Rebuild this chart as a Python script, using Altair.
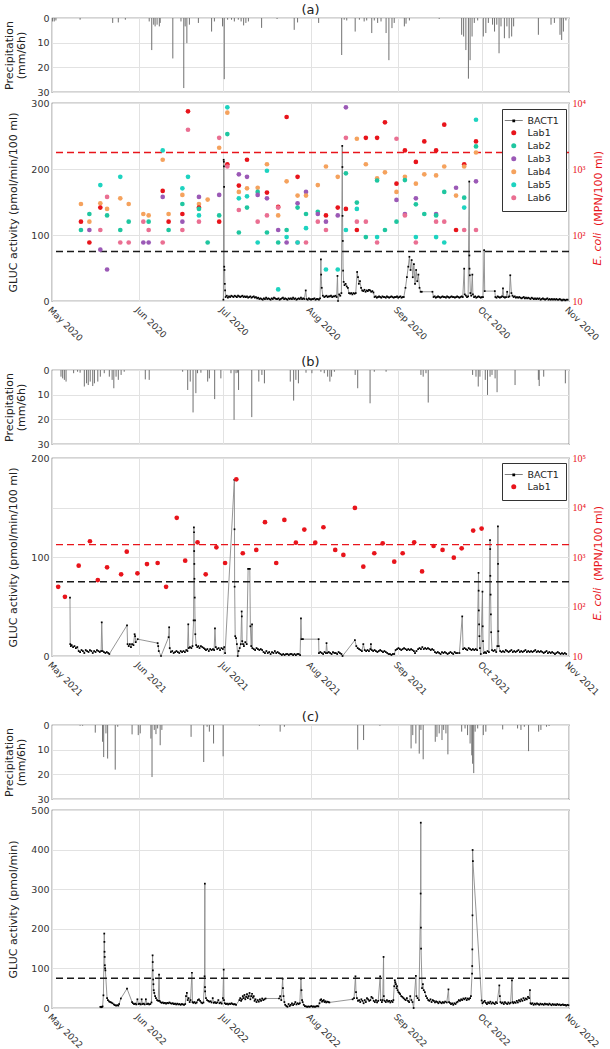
import altair as alt
import pandas as pd

FONT = "DejaVu Sans"
SERIF = "Liberation Serif"
RED = "#e8141b"
W, HP, HG = 517, 74, 198

SERIES_A = ["BACT1", "Lab1", "Lab2", "Lab3", "Lab4", "Lab5", "Lab6"]
COLORS_A = ["#000000", "#e8141b", "#1fc6a0", "#9b59b6", "#f5a25d", "#1dd3c0", "#ea6f92"]
SERIES_B = ["BACT1", "Lab1"]
COLORS_B = ["#000000", "#e8141b"]
BACT_SYMBOL = "M-3.6,-0.13H3.6V0.13H-3.6Z M-0.55,-0.55H0.55V0.55H-0.55Z"

# precipitation events: (day after May 1, mm per 6h)
PRECIP_A = [(0.2,1.4),(0.8,1.4),(1.4,1.0),(10.0,0.7),(21.6,2.0),(23.6,1.8),(26.1,0.7),(34.6,1.4),(35.5,13.0),
            (36.2,2.7),(36.7,3.4),(37.4,2.7),(38.2,3.4),(38.5,2.0),(43.0,16.4),(45.9,1.4),(46.9,28.4),(47.4,3.4),
            (48.0,10.2),(48.9,2.7),(52.1,2.0),(56.8,5.5),(57.8,1.4),(60.7,3.4),(61.3,24.8),(62.5,0.7),(63.9,0.7),
            (64.9,1.4),(66.3,0.7),(67.3,1.4),(68.2,3.0),(69.0,2.0),(69.9,1.4),(74.6,4.0),(80.1,0.4),(86.2,4.8),
            (87.4,1.8),(94.9,2.0),(103.1,15.0),(104.0,0.7),(104.9,1.0),(107.9,5.5),(109.4,0.7),(111.1,1.4),
            (112.0,1.0),(113.8,6.1),(114.7,1.0),(115.9,2.0),(117.1,1.4),(118.9,6.1),(119.9,17.1),(121.0,4.1),
            (121.8,2.0),(125.4,3.4),(126.0,2.3),(127.2,1.0),(137.8,0.4),(145.8,6.8),(146.5,7.5),(147.3,13.0),
            (148.2,24.6),(148.8,17.1),(149.5,7.5),(150.3,2.0),(151.5,1.0),(153.5,7.5),(154.4,6.1),(155.3,2.0),
            (156.8,2.7),(157.5,5.5),(158.3,2.7),(159.1,14.3),(159.8,3.4),(161.0,8.2),(161.9,3.4),(162.7,8.2),
            (163.6,7.5),(164.3,3.4),(173.1,6.8),(177.6,2.7),(178.8,2.0),(180.8,6.8),(181.4,8.9),(182.0,5.5),
            (182.9,1.0)]
PRECIP_B = [(3.2,2.7),(3.8,3.4),(4.4,4.0),(5.0,4.7),(7.7,1.3),(9.1,0.7),(10.0,1.1),(11.5,6.7),(12.3,5.4),
            (12.9,6.1),(13.6,4.7),(14.5,6.5),(15.1,5.4),(16.3,4.7),(17.2,2.7),(18.6,1.3),(20.4,2.7),(21.4,4.0),
            (22.0,7.4),(22.8,2.7),(23.6,4.0),(24.6,2.0),(25.7,0.7),(33.2,3.8),(34.6,4.0),(46.5,0.7),(48.3,8.1),
            (49.2,4.7),(50.2,17.2),(51.2,9.4),(51.8,1.3),(53.0,1.1),(55.4,4.7),(56.0,3.4),(57.9,11.8),(60.1,3.4),
            (63.7,1.3),(64.8,20.2),(65.5,1.3),(66.1,1.1),(66.4,8.1),(71.1,19.1),(73.6,4.7),(74.7,2.0),(75.6,5.4),
            (84.8,4.7),(86.0,12.4),(86.8,4.0),(87.7,5.4),(90.4,1.1),(92.5,1.3),(95.7,0.7),(96.9,1.3),(98.1,2.7),
            (98.9,4.7),(99.5,2.7),(100.5,0.7),(107.9,2.0),(108.8,7.4),(113.2,13.5),(114.7,0.7),(118.9,0.7),
            (131.3,2.0),(132.1,2.7),(133.1,1.3),(133.9,13.2),(149.7,2.0),(150.9,2.7),(151.7,6.7),(152.3,2.7),
            (154.2,4.0),(155.0,10.1),(155.9,2.7),(156.6,2.0),(157.7,3.4),(158.4,9.0),(164.8,6.1),(173.1,4.0),
            (173.4,6.5),(175.0,2.7),(182.7,5.4)]
PRECIP_C = [(10.0,0.3),(10.9,0.3),(15.4,3.1),(18.0,6.8),(18.4,13.0),(19.2,3.4),(19.8,13.6),(22.5,18.1),
            (23.4,0.7),(28.5,3.8),(30.7,4.1),(31.4,3.4),(35.2,5.5),(35.6,21.1),(36.4,2.0),(37.0,3.7),(37.6,1.4),
            (38.5,8.2),(39.1,2.0),(49.5,4.8),(54.0,15.0),(55.2,0.7),(56.0,2.7),(57.5,7.5),(60.9,12.7),(73.8,0.3),
            (81.2,2.7),(82.7,0.7),(108.8,10.0),(110.9,6.1),(116.7,0.3),(127.8,9.5),(128.4,4.1),(129.5,7.5),
            (130.7,11.6),(131.3,2.0),(132.1,13.9),(136.4,6.8),(137.0,4.8),(137.8,3.4),(138.8,6.1),(139.4,2.0),
            (140.2,3.4),(140.9,11.9),(145.8,2.7),(147.0,1.4),(147.9,4.1),(148.8,7.5),(149.4,12.3),(149.7,15.7),
            (150.1,19.5),(150.6,2.7),(151.5,1.4),(153.5,4.1),(154.4,2.7),(160.4,1.8),(165.7,1.4),(166.9,2.0),
            (168.1,0.7),(169.6,10.6),(173.2,2.7),(174.0,2.0),(176.0,0.7),(176.9,0.4)]

# BACT1 GLUC activity: (day after May 1, value)
BACT_A = [(61.0,2),(61.1,214),(61.15,211),(61.2,204),(61.25,173),(61.3,52),(61.4,47),(61.5,26),(61.6,16),(61.8,6),
(62.2,8),(62.6,5),(63.0,7),(63.4,6),(63.8,8),(64.2,7),(64.6,6),(65.0,8),(65.4,7),(65.8,6),(66.2,8),(66.6,7),(67.0,6),
(67.4,7),(67.8,8),(68.2,6),(68.6,7),(69.0,6),(69.4,7),(69.8,5),(70.2,6),(70.6,7),(71.0,5),(71.4,6),(71.8,7),(72.2,5),
(72.6,6),(73.0,4),(73.4,5),(73.8,3),(74.2,4),(74.6,3),(75.0,2),(75.4,4),(75.8,3),(76.2,5),(76.6,3),(77.0,4),(77.4,3),
(77.8,2),(78.2,4),(78.6,3),(79.0,5),(79.4,4),(79.8,3),(80.2,3),(80.6,4),(81.0,2),(81.4,3),(81.8,4),(82.2,5),(82.6,3),
(83.0,4),(83.4,3),(83.8,2),(84.2,4),(84.6,3),(85.0,4),(85.4,3),(85.8,5),(86.2,3),(86.6,4),(87.0,2),(87.4,3),(87.8,4),
(88.2,3),(88.6,5),(89.0,3),(89.4,4),(89.8,3),(90.3,16),(90.6,3),(91.0,2),(91.4,4),(91.8,3),(92.2,2),(92.6,3),(93.0,3),
(93.4,4),(93.8,2),(94.2,3),(94.6,3),(95.0,2),(95.4,4),(95.7,63),(95.8,40),(96.0,20),(96.4,8),(96.9,6),(97.3,7),(97.7,8),
(98.1,6),(98.5,7),(98.9,7),(99.3,8),(99.7,6),(100.1,7),(100.5,7),(100.9,8),(101.3,6),(101.6,38),(101.8,0),(102.2,10),
(102.6,8),(103.0,12),(103.3,235),(103.35,203),(103.4,129),(103.5,91),(103.6,46),(103.8,29),(104.1,24),(104.5,26),
(104.9,22),(105.3,20),(105.7,12),(106.1,11),(106.5,12),(106.9,10),(107.3,12),(107.7,11),(108.1,12),(108.6,44),
(108.9,36),(109.2,26),(109.6,30),(110.0,20),(110.4,16),(110.8,15),(111.2,17),(111.6,14),(112.0,16),(112.4,15),
(112.8,17),(113.2,16),(113.6,14),(114.0,15),(114.4,13),(114.8,6),(115.2,7),(115.6,5),(116.0,6),(116.4,7),(116.8,6),
(117.2,5),(117.6,7),(118.0,6),(118.4,6),(118.8,5),(119.2,7),(119.6,6),(120.0,5),(120.4,6),(120.8,7),(121.2,6),
(121.6,5),(122.0,6),(122.4,6),(122.8,7),(123.2,5),(123.6,6),(124.0,7),(124.4,5),(124.8,6),(125.2,6),(125.8,20),
(126.3,36),(126.8,52),(127.2,67),(127.6,47),(128.0,62),(128.4,36),(128.8,56),(129.2,26),(129.6,47),(130.0,30),
(130.4,40),(130.8,20),(131.2,14),(131.6,14),(135.4,14),(135.8,6),(136.2,7),(136.6,5),(137.0,6),(137.4,7),(137.8,6),
(138.2,5),(138.6,6),(139.0,7),(139.4,6),(139.8,6),(140.2,5),(140.6,7),(141.0,6),(141.4,5),(141.8,6),(142.2,7),
(142.6,6),(143.0,6),(143.4,5),(143.8,6),(144.2,7),(144.6,6),(145.0,5),(145.4,6),(145.8,7),(146.2,6),(146.7,49),
(146.9,10),(147.3,8),(147.7,6),(148.1,7),(148.5,181),(148.55,69),(148.6,49),(148.7,39),(148.9,12),(149.2,8),
(149.6,40),(149.8,10),(150.2,6),(150.6,7),(151.0,5),(151.4,6),(151.8,7),(152.2,6),(152.6,5),(153.0,6),(153.4,6),
(153.8,77),(154.0,15),(157.6,15),(157.8,6),(158.2,5),(158.6,7),(159.0,6),(159.4,5),(159.8,6),(160.2,7),(160.5,19),
(160.8,6),(161.2,5),(161.6,6),(162.0,14),(162.4,6),(162.8,7),(163.1,39),(163.5,12),(163.9,8),(164.3,6),(164.7,7),
(165.1,5),(165.5,6),(165.9,5),(166.3,6),(166.7,5),(167.1,4),(167.5,5),(167.9,6),(168.3,4),(168.7,5),(169.1,4),
(169.5,5),(169.9,4),(170.3,3),(170.7,5),(171.1,4),(171.5,3),(171.9,4),(172.3,3),(172.7,4),(173.1,3),(173.5,4),
(173.9,2),(174.3,3),(174.7,4),(175.1,3),(175.5,2),(175.9,3),(176.3,4),(176.7,2),(177.1,3),(177.5,2),(177.9,3),
(178.3,2),(178.7,3),(179.1,2),(179.5,3),(179.9,2),(180.3,2),(180.7,3),(181.1,2),(181.5,1),(181.9,2),(182.3,2),
(182.7,1),(183.1,2),(183.5,2)]

BACT_B = [(6.4,59),(6.5,12),(6.7,10),(7.0,11),(7.5,9),(8.0,10),(8.5,8),(9.0,9),(9.5,5),(10.0,4),(10.5,6),(11.0,5),
(11.5,3),(12.0,6),(12.5,5),(13.0,4),(13.5,6),(14.0,5),(14.5,3),(15.0,5),(15.5,4),(16.0,6),(16.5,5),(17.0,4),(17.5,5),
(17.7,34),(18.0,5),(18.5,4),(19.0,3),(19.5,4),(20.0,3),(20.4,2),(26.7,31),(26.9,12),(27.3,10),(27.7,12),(28.1,9),
(28.5,12),(29.0,11),(29.4,22),(29.6,20),(29.8,14),(30.5,17),(37.6,13),(37.8,10),(38.0,5),(38.8,0),(41.5,19),
(41.7,29),(41.9,8),(42.3,4),(42.8,5),(43.3,3),(43.8,4),(44.3,5),(44.8,4),(45.3,3),(45.8,5),(46.3,4),(46.8,5),(47.3,4),
(47.8,6),(48.2,5),(48.5,32),(48.7,8),(49.1,9),(49.6,8),(50.0,10),(50.4,36),(50.5,130),(50.55,125),(50.6,106),
(50.65,93),(50.7,78),(50.8,59),(50.9,36),(51.0,22),(51.3,11),(51.7,9),(52.1,10),(52.5,8),(53.0,10),(53.5,9),(54.0,8),
(54.4,7),(54.8,6),(55.3,7),(55.8,5),(56.3,7),(56.8,6),(57.3,7),(57.7,6),(58.0,28),(58.3,9),(58.8,7),(59.3,8),(59.8,6),
(60.3,8),(60.8,7),(61.3,9),(61.6,3),(64.9,178),(64.95,128),(65.0,70),(65.2,20),(65.5,18),(65.8,12),(66.1,0),(66.4,5),
(66.8,8),(67.2,12),(67.5,45),(67.55,40),(67.7,15),(68.0,12),(68.3,10),(68.8,14),(69.3,12),(69.8,88),(70.4,88),
(70.6,30),(70.9,10),(71.2,32),(71.3,8),(71.8,7),(72.3,6),(72.8,8),(73.3,7),(73.8,6),(74.3,7),(74.8,6),(75.3,4),
(75.8,3),(76.3,5),(76.8,3),(77.3,4),(77.8,2),(78.3,4),(78.8,3),(79.3,5),(79.8,3),(80.3,4),(80.8,3),(81.3,2),(81.8,1),
(82.3,2),(82.8,1),(83.3,2),(83.8,2),(84.3,1),(84.8,2),(85.3,2),(85.8,1),(86.3,2),(86.8,1),(87.3,2),(87.8,2),(88.3,1),
(88.6,38),(88.8,17),(89.3,17),(94.9,17),(95.0,3),(95.5,4),(96.0,3),(96.5,2),(97.0,4),(97.5,3),(97.7,13),(98.0,3),
(98.5,4),(99.0,3),(99.5,2),(100.0,4),(100.5,3),(101.0,3),(101.5,2),(102.0,4),(102.5,3),(103.0,2),(103.4,0),
(107.8,16),(108.3,10),(108.8,8),(109.3,7),(109.8,6),(110.3,5),(110.8,12),(111.3,6),(111.8,5),(112.3,6),(112.8,5),
(113.3,7),(113.5,12),(113.8,6),(114.3,5),(114.8,6),(115.3,5),(115.8,4),(116.3,5),(116.8,6),(117.3,5),(117.8,4),
(118.3,5),(118.8,4),(119.3,3),(119.8,2),(120.3,2),(120.8,1),(121.3,2),(121.8,2),(122.3,6),(122.8,7),(123.3,8),
(123.8,7),(124.3,6),(124.8,7),(125.3,8),(125.8,7),(126.3,6),(126.8,7),(127.3,6),(127.8,7),(128.3,6),(128.8,5),
(129.2,3),(129.7,5),(130.3,7),(130.8,8),(131.3,7),(131.8,9),(132.3,7),(132.8,8),(133.3,7),(133.8,8),(134.3,7),
(134.8,6),(135.3,7),(135.8,6),(136.3,4),(136.8,3),(137.3,4),(137.8,3),(138.3,2),(138.8,4),(139.3,3),(139.8,4),
(140.3,3),(140.8,2),(141.3,3),(141.8,4),(142.3,3),(142.8,2),(143.3,4),(143.8,3),(144.3,3),(145.0,3),(146.0,40),
(146.3,7),(146.8,8),(147.3,7),(147.8,6),(148.3,8),(148.8,7),(149.3,6),(149.8,7),(150.3,6),(150.8,7),(151.3,6),
(151.8,84),(151.85,66),(151.9,46),(152.0,32),(152.1,20),(152.3,8),(152.6,2),(153.2,65),(153.3,30),(153.4,15),
(153.7,3),(154.1,4),(154.5,3),(155.0,5),(155.5,4),(155.9,117),(155.95,108),(156.0,81),(156.1,62),(156.2,42),
(156.3,24),(156.6,6),(157.1,5),(157.6,6),(158.1,4),(158.5,10),(158.7,131),(158.75,93),(158.85,25),(159.0,10),
(159.5,5),(160.0,4),(160.5,5),(161.0,4),(161.5,6),(162.0,5),(162.5,4),(163.0,5),(163.5,6),(164.0,4),(164.5,5),
(165.0,4),(165.5,5),(166.0,6),(166.5,4),(167.0,5),(167.5,4),(168.0,5),(168.5,6),(169.0,4),(169.5,5),(170.0,4),
(170.5,5),(171.0,4),(171.5,5),(172.0,6),(172.5,4),(173.0,5),(173.5,4),(174.0,5),(174.5,4),(175.0,3),(175.5,4),
(176.0,5),(176.5,3),(177.0,4),(177.5,3),(178.0,4),(178.5,3),(179.0,2),(179.5,3),(180.0,4),(180.5,3),(181.0,2),
(181.5,3),(182.0,2),(182.5,3),(183.0,2)]

BACT_C = [(17.2,3),(17.5,2),(17.8,3),(18.0,4),(18.3,32),(18.6,188),(18.65,167),(18.7,142),(18.75,129),(18.8,108),
(18.9,100),(19.0,95),(19.6,25),(19.9,20),(20.3,17),(20.7,15),(21.1,14),(21.5,12),(22.0,9),(22.4,7),(22.8,6),(23.2,7),
(23.6,6),(23.9,10),(24.5,24),(26.7,49),(28.5,15),(28.8,12),(29.2,10),(29.6,11),(30.0,9),(30.4,22),(30.8,10),(31.2,11),
(31.6,9),(31.9,22),(32.2,10),(32.6,11),(33.0,9),(33.4,22),(33.8,10),(34.2,11),(34.6,9),(35.0,10),(35.4,14),
(35.8,133),(35.85,116),(35.9,95),(36.0,72),(36.1,60),(36.2,45),(36.4,38),(36.7,30),(37.0,25),(37.4,20),(37.8,18),
(38.1,84),(38.3,18),(38.6,15),(39.0,13),(39.4,14),(39.8,12),(40.2,13),(40.6,11),(41.0,13),(41.4,12),(41.8,14),
(42.2,12),(42.6,11),(43.0,12),(43.4,10),(43.8,11),(44.2,9),(44.6,11),(45.0,9),(45.4,10),(45.8,8),(46.2,10),(46.6,9),
(47.0,8),(47.4,10),(47.7,30),(48.0,38),(48.3,20),(48.6,25),(49.0,15),(49.3,20),(49.8,89),(50.0,15),(50.3,13),
(50.7,15),(51.1,12),(51.5,14),(51.9,20),(52.3,22),(52.7,18),(53.1,14),(53.5,12),(53.9,14),(54.3,80),(54.4,314),
(54.45,53),(54.5,42),(54.8,25),(55.2,20),(55.6,18),(56.0,16),(56.4,17),(56.8,14),(57.2,25),(57.6,13),(58.0,15),
(58.4,12),(58.8,14),(59.2,20),(59.6,12),(60.0,14),(60.4,11),(60.8,25),(61.1,97),(61.2,20),(61.5,12),(61.9,10),
(62.3,11),(62.7,9),(63.1,11),(63.5,10),(63.9,12),(64.3,10),(64.7,9),(65.1,10),(65.5,8),(66.7,20),(67.0,25),(67.3,18),
(67.6,22),(67.9,30),(68.2,25),(68.5,33),(68.8,22),(69.1,28),(69.4,35),(69.7,25),(70.0,30),(70.3,38),(70.6,22),
(70.9,30),(71.2,36),(71.5,26),(71.8,30),(72.1,18),(72.4,22),(72.8,15),(73.2,20),(73.6,16),(74.0,22),(74.4,18),
(74.8,24),(75.2,20),(75.6,22),(76.0,24),(80.8,24),(81.2,30),(81.6,20),(82.1,74),(82.2,50),(82.4,30),(82.7,15),
(83.0,8),(83.4,5),(83.8,3),(84.2,10),(84.6,5),(85.0,8),(85.4,12),(85.8,7),(86.2,10),(86.6,15),(87.0,9),(87.4,12),
(87.8,10),(88.2,12),(88.6,74),(88.8,45),(89.0,20),(89.2,15),(89.6,8),(90.0,5),(90.4,4),(90.8,3),(91.2,4),(91.6,3),
(92.0,4),(92.4,5),(92.8,3),(93.2,4),(93.6,3),(94.0,4),(94.4,5),(94.8,4),(95.2,12),(95.5,20),(95.8,22),(96.1,16),
(96.4,18),(96.7,20),(97.0,15),(97.3,17),(97.6,14),(98.0,16),(98.4,15),(98.7,14),(107.0,22),(107.5,25),(108.0,80),
(108.2,40),(108.5,25),(108.9,18),(109.3,20),(109.7,15),(110.1,22),(110.5,18),(110.9,12),(111.3,20),(111.7,15),
(112.1,25),(112.5,22),(112.9,18),(113.3,20),(113.7,28),(114.1,25),(114.5,18),(114.9,15),(115.3,20),(115.7,14),
(116.1,18),(116.8,80),(117.0,20),(117.4,15),(117.7,20),(118.0,129),(118.1,30),(118.4,18),(118.8,15),(119.2,20),
(119.6,16),(120.0,18),(120.4,14),(120.8,18),(121.2,15),(121.5,20),(121.8,55),(122.0,70),(122.2,65),(122.4,60),
(122.6,50),(122.8,55),(123.0,45),(123.3,40),(123.6,38),(123.9,35),(124.3,30),(124.7,28),(125.1,25),(125.5,22),
(125.9,20),(126.3,25),(126.7,18),(127.1,15),(127.5,30),(127.9,20),(128.3,15),(128.7,0),(129.5,81),(129.7,30),
(130.1,25),(130.6,20),(131.2,289),(131.25,468),(131.3,203),(131.35,150),(131.7,50),(132.0,60),(132.3,45),(132.7,40),
(133.1,30),(133.5,25),(133.9,20),(134.3,18),(134.7,22),(135.1,15),(135.5,20),(135.9,18),(136.3,14),(136.7,17),
(137.1,15),(137.5,12),(137.9,16),(138.3,14),(138.7,12),(139.1,15),(139.5,13),(139.9,16),(140.5,14),(141.1,47),
(141.3,15),(141.6,13),(142.0,10),(142.4,12),(142.8,8),(143.2,12),(143.6,10),(144.0,14),(144.4,16),(144.8,20),
(145.2,18),(145.6,22),(146.0,20),(146.4,24),(146.8,22),(147.2,25),(147.6,20),(148.0,24),(148.4,22),(148.8,25),
(149.1,30),(149.5,87),(149.55,106),(149.6,148),(149.65,234),(149.7,399),(149.8,371),(152.9,19),(153.2,12),
(153.6,15),(154.0,18),(154.4,13),(154.8,10),(155.2,14),(155.6,12),(156.0,16),(156.4,11),(156.8,14),(157.2,12),
(157.6,10),(158.0,15),(158.4,12),(159.2,57),(159.4,30),(159.6,15),(160.0,12),(160.4,14),(160.8,10),(161.2,15),
(161.6,12),(162.0,10),(162.4,14),(162.8,11),(163.2,13),(163.7,70),(163.9,15),(164.2,12),(164.6,15),(165.0,13),
(165.4,18),(165.8,14),(166.2,20),(166.6,17),(167.0,22),(167.4,18),(167.8,25),(168.2,20),(168.6,24),(169.0,22),
(169.4,28),(169.8,25),(170.1,45),(170.3,12),(170.6,10),(171.0,12),(171.4,8),(171.8,11),(172.2,9),(172.6,12),
(173.0,10),(173.4,8),(173.8,11),(174.2,9),(174.6,10),(175.0,8),(175.4,11),(175.8,9),(176.2,10),(176.6,8),(177.0,11),
(177.4,9),(177.8,7),(178.2,10),(178.6,8),(179.0,9),(179.4,7),(179.8,10),(180.2,8),(180.6,9),(181.0,7),(181.4,8),
(181.8,9),(182.2,7),(182.6,8),(183.0,6),(183.4,8),(183.8,7)]

# E. coli lab results (MPN/100 ml): (day after May 1, [(lab, value), ...])
LABS_A = [
(10.3, [("Lab4",295),("Lab1",159),("Lab2",119)]),
(13.3, [("Lab2",208),("Lab4",159),("Lab3",119),("Lab1",77)]),
(17.2, [("Lab5",570),("Lab4",302),("Lab1",260),("Lab6",119),("Lab3",60)]),
(19.6, [("Lab6",377),("Lab4",248),("Lab2",198),("Lab3",30)]),
(24.3, [("Lab5",760),("Lab4",360),("Lab2",119),("Lab6",77)]),
(27.3, [("Lab4",295),("Lab2",159),("Lab6",77)]),
(32.5, [("Lab4",208),("Lab6",159),("Lab3",77)]),
(34.4, [("Lab4",198),("Lab2",159),("Lab6",119),("Lab3",77)]),
(39.4, [("Lab5",1910),("Lab4",1380),("Lab1",465),("Lab3",377),("Lab6",77)]),
(41.5, [("Lab4",208),("Lab1",159),("Lab2",119)]),
(46.4, [("Lab5",510),("Lab4",405),("Lab2",295),("Lab1",208),("Lab3",159),("Lab6",119)]),
(48.4, [("Lab1",7480),("Lab6",3930),("Lab5",760)]),
(52.3, [("Lab3",377),("Lab4",295),("Lab1",260),("Lab2",248),("Lab5",198),("Lab6",159)]),
(55.4, [("Lab4",344),("Lab2",77)]),
(59.5, [("Lab6",2970),("Lab4",2100),("Lab3",405),("Lab2",198),("Lab1",159)]),
(62.4, [("Lab5",8600),("Lab4",7130),("Lab2",3380),("Lab1",1180),("Lab6",1090)]),
(66.5, [("Lab3",830),("Lab1",560),("Lab4",450),("Lab5",360),("Lab6",239),("Lab2",109)]),
(69.4, [("Lab1",1380),("Lab3",760),("Lab4",510),("Lab5",385),("Lab2",260)]),
(73.2, [("Lab4",520),("Lab2",450),("Lab3",405),("Lab6",159),("Lab5",77)]),
(76.5, [("Lab4",1180),("Lab5",940),("Lab1",440),("Lab3",360),("Lab6",198),("Lab2",109)]),
(80.5, [("Lab1",266),("Lab6",260),("Lab4",198),("Lab3",119),("Lab2",77),("Lab5",15)]),
(83.5, [("Lab1",6130),("Lab4",650),("Lab2",119),("Lab5",93),("Lab3",77)]),
(87.4, [("Lab1",760),("Lab4",395),("Lab3",302),("Lab2",260),("Lab6",77),("Lab5",77)]),
(90.4, [("Lab3",450),("Lab4",395),("Lab2",208),("Lab5",127),("Lab6",77)]),
(94.6, [("Lab4",570),("Lab2",225),("Lab3",208),("Lab6",159)]),
(97.5, [("Lab4",1090),("Lab1",198),("Lab3",159),("Lab6",119),("Lab5",30)]),
(101.7, [("Lab4",760),("Lab1",260),("Lab3",198),("Lab5",30)]),
(104.6, [("Lab3",8600),("Lab6",2970),("Lab2",860),("Lab1",248),("Lab5",119)]),
(108.5, [("Lab4",2870),("Lab2",310),("Lab5",248),("Lab6",159),("Lab1",119)]),
(111.7, [("Lab1",2970),("Lab4",1180),("Lab6",159),("Lab2",93)]),
(115.7, [("Lab1",2970),("Lab4",720),("Lab2",670),("Lab5",93),("Lab6",77)]),
(118.5, [("Lab1",5090),("Lab4",890),("Lab2",119)]),
(122.6, [("Lab6",2870),("Lab1",600),("Lab4",450),("Lab3",340),("Lab2",159)]),
(125.6, [("Lab1",1910),("Lab4",760),("Lab2",680),("Lab3",208),("Lab6",198)]),
(129.5, [("Lab1",1280),("Lab4",600),("Lab3",360),("Lab2",292),("Lab5",93),("Lab6",77)]),
(132.5, [("Lab1",2620),("Lab4",830),("Lab2",208)]),
(136.7, [("Lab1",1910),("Lab4",800),("Lab3",208),("Lab2",198),("Lab6",159),("Lab5",93)]),
(139.6, [("Lab1",4690),("Lab4",1090),("Lab2",450),("Lab6",159),("Lab5",77)]),
(143.8, [("Lab3",520),("Lab4",395),("Lab1",119)]),
(146.7, [("Lab1",1180),("Lab4",1090),("Lab2",368),("Lab5",260),("Lab6",119)]),
(150.9, [("Lab5",5580),("Lab1",2620),("Lab2",2200),("Lab4",1780),("Lab3",650),("Lab6",119)]),
]
LABS_B = [(2.2,250),(4.6,157),(9.5,667),(13.5,2080),(16.3,342),(19.6,618),(24.6,446),(26.6,1280),(30.4,467),
(33.8,721),(37.6,756),(40.6,250),(44.4,6180),(47.4,844),(51.8,1980),(54.7,446),(58.5,1570),(61.6,756),(65.6,37000),
(67.9,1190),(72.7,1390),(75.8,5050),(79.8,756),(82.7,5620),(86.8,1950),(89.8,3580),(93.7,1950),(96.6,3990),
(100.8,1390),(103.7,1100),(107.8,9840),(110.8,637),(114.7,1190),(117.7,1890),(121.8,804),(124.8,1190),(128.9,1980),
(131.7,512),(135.8,1670),(139.0,1390),(143.0,968),(145.8,1500),(149.9,3420),(152.9,3750)]

SUP = {10: "10", 100: "10\u00b2", 1000: "10\u00b3", 10000: "10\u2074", 100000: "10\u2075"}


def to_dates(year, days):
    base = pd.Timestamp(f"{year}-05-01")
    return [base + pd.Timedelta(days=float(d)) for d in days]


def months(year):
    return [alt.DateTime(year=year, month=m, date=1) for m in range(5, 12)]


def xenc(year, labels):
    dom = [alt.DateTime(year=year, month=5, date=1), alt.DateTime(year=year, month=11, date=1)]
    if labels:
        ax = alt.Axis(values=months(year), format="%b %Y", labelAngle=45, labelAlign="left",
                      labelBaseline="top", labelPadding=4, labelFlush=False, labelOverlap=False,
                      labelBound=False, labelFontSize=9, grid=True, title=None)
    else:
        ax = alt.Axis(values=months(year), labels=False, grid=True, title=None)
    return alt.X("t:T", scale=alt.Scale(domain=dom, nice=False), axis=ax)


def precip_chart(year, events, label):
    df = pd.DataFrame({"t": to_dates(year, [e[0] for e in events]), "mm": [e[1] for e in events]})
    return alt.Chart(df).mark_rule(color="#707070", strokeWidth=1).encode(
        x=xenc(year, False),
        y=alt.Y("mm:Q", scale=alt.Scale(domain=[0, 30], reverse=True, nice=False),
                axis=alt.Axis(values=[0, 10, 20, 30], title=["Precipitation", "(mm/6h)"],
                              titleX=-37.5, titleBaseline="bottom", titleAngle=270, titleAlign="center",
                              titleLineHeight=12, labelPadding=3, labelOverlap=False)),
        y2=alt.datum(0),
    ).properties(width=W, height=HP,
                 title=alt.TitleParams(text=label, fontSize=13, font=FONT, fontWeight="normal",
                                       anchor="middle", offset=-4, color="#222"))


def gluc_chart(year, bact, ymax, yvals, ylabel_expr, ytitle, red_thr=None, labs=None, series=None,
               colors=None, emax=None, legend_y=6):
    bdf = pd.DataFrame({"t": to_dates(year, [b[0] for b in bact]), "v": [b[1] for b in bact]})
    x = xenc(year, True)
    yscale = alt.Scale(domain=[0, ymax], nice=False)
    yax = alt.Axis(values=yvals, labelExpr=ylabel_expr, title=ytitle, titleX=-33.5, titleBaseline="bottom",
                   titleAngle=270, titleAlign="center", labelPadding=3, labelOverlap=False)
    y = alt.Y("v:Q", scale=yscale, axis=yax)
    line = alt.Chart(bdf).mark_line(color="#8a8a8a", strokeWidth=0.9).encode(x=x, y=y)
    pts = alt.Chart(bdf).mark_point(filled=True, shape="square", size=3, color="#000000", opacity=1).encode(x=x, y=y)
    thr_vals = [75] + ([red_thr] if red_thr is not None else [])
    thr_cols = ["#1a1a1a"] + ([RED] if red_thr is not None else [])
    tdf = pd.DataFrame({"v": thr_vals, "c": thr_cols})
    rules = alt.Chart(tdf).mark_rule(strokeDash=[7, 4], strokeWidth=1.4).encode(
        y=alt.Y("v:Q", scale=yscale, axis=yax), color=alt.Color("c:N", scale=None))
    inner = alt.layer(line, pts, rules)
    if labs is None:
        return inner.properties(width=W, height=HG)
    ldf = pd.DataFrame({"t": to_dates(year, [l[0] for l in labs]),
                        "series": [l[1] for l in labs], "e": [l[2] for l in labs]})
    evals = [v for v in [10, 100, 1000, 10000, 100000] if v <= emax]
    expr = " : ".join(f"datum.value == {v} ? '{SUP[v]}'" for v in evals) + " : ''"
    leg = alt.Legend(title=None, orient="none", legendX=450, legendY=legend_y, strokeColor="#333333",
                     fillColor="#ffffff", padding=7, labelFont=FONT, labelFontSize=9.5, labelColor="#222",
                     symbolSize=25, labelOffset=9, rowPadding=1, symbolOpacity=1)
    shapes = [BACT_SYMBOL] + ["circle"] * (len(series) - 1)
    labpts = alt.Chart(ldf).mark_point(filled=True, size=22, opacity=1).encode(
        x=x,
        y=alt.Y("e:Q", scale=alt.Scale(type="log", domain=[10, emax], nice=False),
                axis=alt.Axis(orient="right", values=evals, labelExpr=expr, labelFont=SERIF, labelFontSize=10,
                              labelColor=RED, labelPadding=3, grid=False, title="(MPN/100 ml)", titleColor=RED,
                              titleAngle=270, titleX=29, titleY=85, titleBaseline="middle", titleAlign="center",
                              labelOverlap=False)),
        color=alt.Color("series:N", title=None, scale=alt.Scale(domain=series, range=colors), legend=leg),
        shape=alt.Shape("series:N", title=None, scale=alt.Scale(domain=series, range=shapes), legend=leg),
    )
    etext = alt.Chart(pd.DataFrame({"s": ["E. coli"]})).mark_text(
        angle=270, fontStyle="italic", font=FONT, fontSize=11, color=RED, align="center", baseline="middle"
    ).encode(text="s:N", x=alt.value(W + 29), y=alt.value(146))
    return alt.layer(inner, labpts, etext).resolve_scale(y="independent").properties(width=W, height=HG)


def spacer(h):
    return alt.Chart(pd.DataFrame({"s": [0]})).mark_point(opacity=0).encode(
        x=alt.value(0), y=alt.value(0)).properties(width=W, height=h, view=alt.ViewBackground(stroke="transparent"))


labs_a = [(d, lab, v) for d, entries in LABS_A for lab, v in entries]
labs_b = [(d, "Lab1", v) for d, v in LABS_B]

PA = precip_chart(2020, PRECIP_A, "(a)")
GA = gluc_chart(2020, BACT_A, 300, [0, 100, 200, 300], "datum.label", "GLUC activity (pmol/min/100 ml)",
                red_thr=225, labs=labs_a, series=SERIES_A, colors=COLORS_A, emax=10000, legend_y=6)
PB = precip_chart(2021, PRECIP_B, "(b)")
GB = gluc_chart(2021, BACT_B, 200, [0, 50, 100, 150, 200], "datum.value % 100 == 0 ? datum.label : ''",
                "GLUC activity (pmol/min/100 ml)", red_thr=112.5, labs=labs_b, series=SERIES_B,
                colors=COLORS_B, emax=100000, legend_y=5)
PC = precip_chart(2022, PRECIP_C, "(c)")
GC = gluc_chart(2022, BACT_C, 500, [0, 100, 200, 300, 400, 500], "datum.label", "GLUC activity (pmol/min)")

chart = alt.vconcat(PA, spacer(11), GA, spacer(69), PB, spacer(14), GB, spacer(69), PC, spacer(11), GC,
                    spacing=0, bounds="flush").resolve_scale(
    color="independent", shape="independent", x="independent", y="independent"
).resolve_legend(color="independent", shape="independent").properties(
    padding={"left": 2, "top": 3, "right": 2, "bottom": 2}
).configure_view(stroke="#555555", strokeWidth=1.2).configure_axis(
    labelFont=FONT, titleFont=FONT, labelFontSize=9.5, titleFontSize=11, titleFontWeight="normal",
    labelColor="#333333", titleColor="#222222", gridColor="#e2e2e2", gridWidth=1, domain=False, ticks=False
).configure_title(font=FONT, fontWeight="normal")

chart.save("out.html", embed_options={"renderer": "svg", "actions": False})
